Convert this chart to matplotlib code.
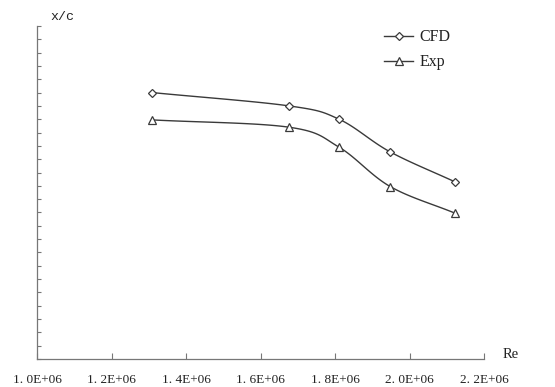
import numpy as np
import matplotlib
matplotlib.use("Agg")
import matplotlib.pyplot as plt
from matplotlib.lines import Line2D

# Data
re_values = [1.31e6, 1.677e6, 1.811e6, 1.948e6, 2.122e6]
cfd_xc = [0.400, 0.380, 0.360, 0.311, 0.266]
exp_xc = [0.359, 0.348, 0.318, 0.259, 0.219]
x_ticks = [1.0e6, 1.2e6, 1.4e6, 1.6e6, 1.8e6, 2.0e6, 2.2e6]
x_tick_labels = ["1. 0E+06", "1. 2E+06", "1. 4E+06", "1. 6E+06", "1. 8E+06", "2. 0E+06", "2. 2E+06"]
series_names = ["CFD", "Exp"]

XMIN, XMAX, YMIN, YMAX = 1.0e6, 2.2e6, 0.0, 0.5
col = "#3a3a3a"


def smooth(xs, ys, n=30):
    # Catmull-Rom spline (Excel-like smoothed line) in normalized space
    xs = (np.asarray(xs) - XMIN) / (XMAX - XMIN)
    ys = (np.asarray(ys) - YMIN) / (YMAX - YMIN) * 0.75
    P = np.column_stack([xs, ys])
    P = np.vstack([2 * P[0] - P[1], P, 2 * P[-1] - P[-2]])
    out = []
    for i in range(1, len(P) - 2):
        p0, p1, p2, p3 = P[i - 1], P[i], P[i + 1], P[i + 2]
        t = np.linspace(0, 1, n)[:, None]
        seg = 0.5 * ((2 * p1) + (-p0 + p2) * t + (2 * p0 - 5 * p1 + 4 * p2 - p3) * t ** 2
                     + (-p0 + 3 * p1 - 3 * p2 + p3) * t ** 3)
        out.append(seg if i == 1 else seg[1:])
    out = np.vstack(out)
    return out[:, 0] * (XMAX - XMIN) + XMIN, out[:, 1] / 0.75 * (YMAX - YMIN) + YMIN


fig = plt.figure(figsize=(5.55, 3.87), dpi=100)
ax = fig.add_axes([37 / 555, 1 - 359 / 387, (484 - 37) / 555, (359 - 26) / 387])

for ys, mk in zip([cfd_xc, exp_xc], ["D", "^"]):
    sx, sy = smooth(re_values, ys)
    ax.plot(sx, sy, color=col, lw=1.0, zorder=2)
    ax.plot(re_values, ys, linestyle="none", marker=mk,
            markersize=4.2 if mk == "D" else 6, markerfacecolor="white",
            markeredgecolor=col, markeredgewidth=0.9, zorder=3)

ax.set_xlim(XMIN, XMAX)
ax.set_ylim(YMIN, YMAX)
ax.set_xticks(x_ticks)
ax.set_xticklabels(x_tick_labels, family="Liberation Serif", fontsize=9.5, color="#222222")
ax.set_yticks(np.linspace(YMIN, YMAX, 26))
ax.set_yticklabels([])
ax.tick_params(axis="x", direction="in", length=4, width=0.8, color="#777777", pad=11)
ax.tick_params(axis="y", direction="in", length=3, width=0.8, color="#777777")

for s in ["top", "right"]:
    ax.spines[s].set_visible(False)
for s in ["left", "bottom"]:
    ax.spines[s].set_color("#777777")
    ax.spines[s].set_linewidth(0.9)

fig.text(50 / 555, 1 - 17 / 387, "x/c", family="Liberation Mono", fontsize=9.5,
         color="#222222", ha="left", va="center")
fig.text(503 / 555, 1 - 354 / 387, "Re", family="Liberation Serif", fontsize=10.5,
         color="#222222", ha="left", va="center")

handles = [Line2D([], [], color=col, lw=1.0, marker="D", markersize=4.2,
                  markerfacecolor="white", markeredgecolor=col, markeredgewidth=0.9),
           Line2D([], [], color=col, lw=1.0, marker="^", markersize=6,
                  markerfacecolor="white", markeredgecolor=col, markeredgewidth=0.9)]
leg = fig.legend(handles, series_names, loc="upper left",
                 bbox_to_anchor=(370 / 555, 1 - 15 / 387), frameon=False,
                 prop={"family": "Liberation Serif", "size": 11.5},
                 handlelength=1.8, handletextpad=0.4, labelspacing=0.55)
for t in leg.get_texts():
    t.set_color("#222222")

fig.savefig("out.png", dpi=100)
